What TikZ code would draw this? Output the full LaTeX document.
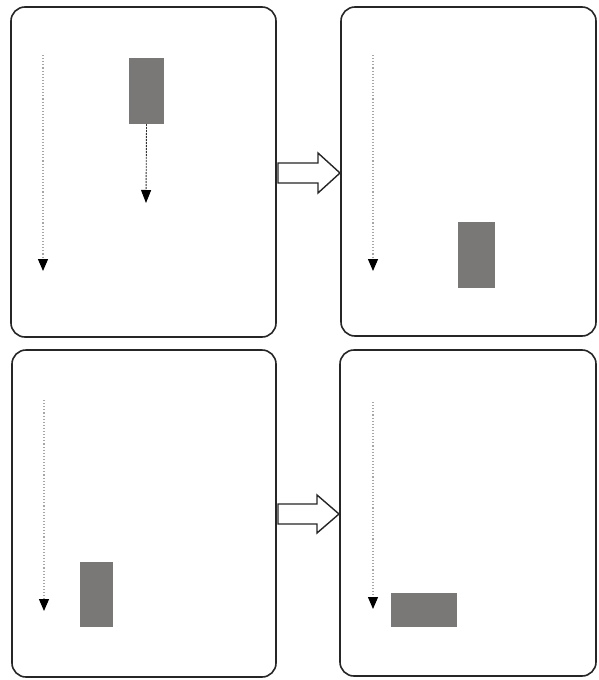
\documentclass[tikz,border=0pt]{standalone}
\usetikzlibrary{arrows.meta}
\definecolor{blockgray}{RGB}{122,119,119}
\begin{document}
\begin{tikzpicture}[x=1pt,y=-1pt,
  panel/.style={draw=black!85,line width=1.6pt,rounded corners=14pt,fill=white},
  block/.style={fill=blockgray,draw=none,inner sep=0pt},
  guide/.style={draw=gray!70,line width=1.1pt,dotted,-{Triangle[color=black,width=10pt,length=12pt]}},
  drop/.style={draw=black!80,line width=0.9pt,dash pattern=on 2pt off 1pt,-{Triangle[color=black,width=10pt,length=13pt]}},
  bigarrow/.style={draw=black!85,fill=white,line width=1.4pt,line join=miter}]
\useasboundingbox (0,0) rectangle (598,680);
\fill[white] (0,0) rectangle (598,680);
% panels
\draw[panel] (11,7) rectangle (276,337);
\draw[panel] (341,7) rectangle (596,336);
\draw[panel] (12,350) rectangle (276,677);
\draw[panel] (340,350) rectangle (596,676);
% transition arrows
\draw[bigarrow] (278,163) -- (318,163) -- (318,153) -- (340,173) -- (318,193) -- (318,183) -- (278,183) -- cycle;
\draw[bigarrow] (278,504) -- (317,504) -- (317,495) -- (339,514) -- (317,533) -- (317,524) -- (278,524) -- cycle;
% top-left
\coordinate (g1s) at (43,55); \coordinate (g1e) at (43,271);
\draw[guide] (g1s) -- (g1e);
\node[block,minimum width=35pt,minimum height=66pt] (r1) at (146.5,91) {};
\coordinate (d1) at (146,203);
\draw[drop] (r1.south) -- (d1);
% top-right
\coordinate (g2s) at (373,55); \coordinate (g2e) at (373,271);
\draw[guide] (g2s) -- (g2e);
\node[block,minimum width=37pt,minimum height=66pt] (r2) at (476.5,255) {};
% bottom-left
\coordinate (g3s) at (44,400); \coordinate (g3e) at (44,611);
\draw[guide] (g3s) -- (g3e);
\node[block,minimum width=33pt,minimum height=65pt] (r3) at (96.5,594.5) {};
% bottom-right
\coordinate (g4s) at (373,402); \coordinate (g4e) at (373,609);
\draw[guide] (g4s) -- (g4e);
\node[block,minimum width=66pt,minimum height=34pt] (r4) at (424,610) {};
\end{tikzpicture}
\end{document}
